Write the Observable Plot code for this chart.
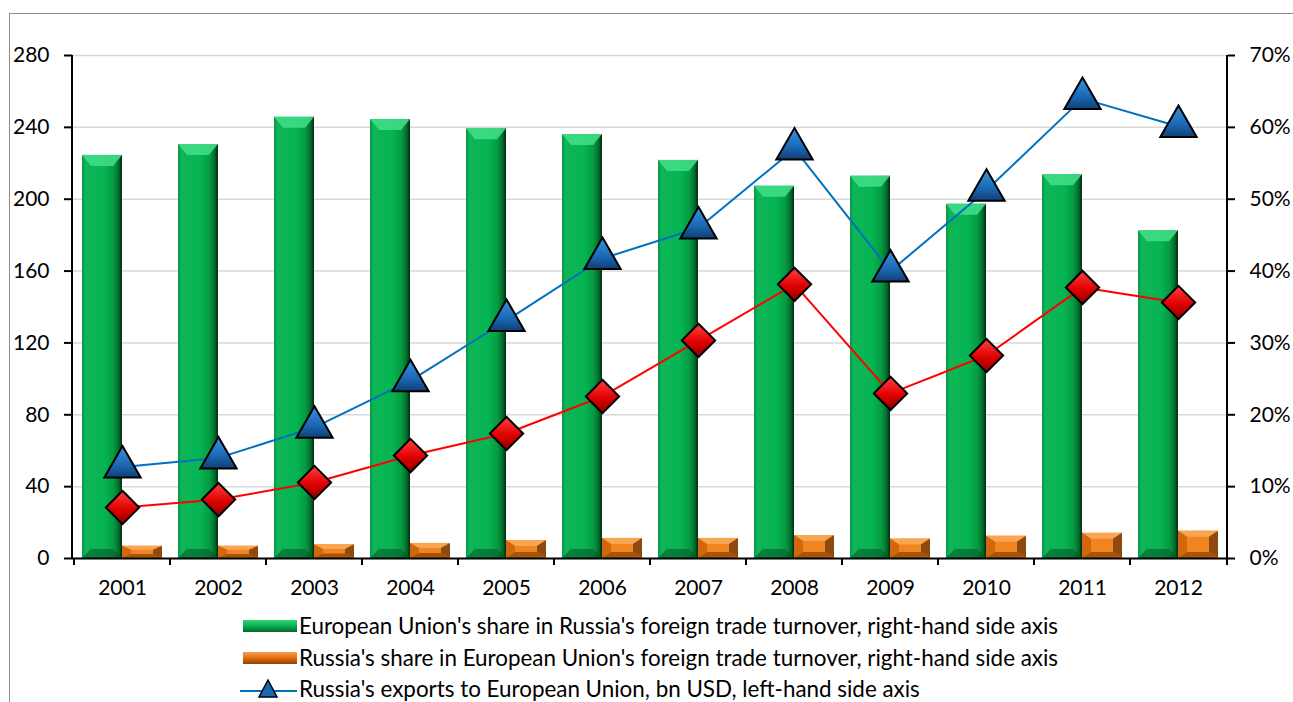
<!DOCTYPE html>
<html><head><meta charset="utf-8">
<script src="https://cdn.jsdelivr.net/npm/d3@7"></script>
<script src="https://cdn.jsdelivr.net/npm/@observablehq/plot@0.6"></script>
<style>
body{margin:0;background:#fff;font-family:Lato,sans-serif;}
#wrap{position:relative;width:1293px;height:702px;overflow:hidden;background:#fff;}
#frame{position:absolute;left:9px;top:13px;width:1400px;height:800px;border:1px solid #8c8c8c;box-sizing:border-box;}
#chart{position:absolute;left:0;top:0;}
.li{position:absolute;left:240px;height:24px;display:flex;align-items:center;font-size:22.4px;line-height:1;color:#000;white-space:nowrap;}
.li svg{margin-right:1px;flex:none;}
</style></head>
<body><div id="wrap"><div id="frame"></div><div id="chart"></div><div id="legend"></div></div>
<script>
const years = ["2001","2002","2003","2004","2005","2006","2007","2008","2009","2010","2011","2012"];
// % (right-hand axis)
const euShareInRussiaTrade = [56.1, 57.6, 61.4, 61.1, 59.8, 59.0, 55.4, 51.8, 53.2, 49.3, 53.4, 45.6];
const russiaShareInEUTrade = [1.7, 1.7, 1.9, 2.1, 2.5, 2.8, 2.8, 3.2, 2.7, 3.1, 3.5, 3.8];
// bn USD (left-hand axis)
const exportsToEU = [51, 56, 73, 99, 132.5, 167, 184, 228, 160, 205, 256, 240.5];
const importsFromEU = [28.4, 32.8, 42.3, 57.3, 69.6, 90.2, 121.4, 152.6, 91.9, 113, 150.9, 142.5];
const leftTicks = [0, 40, 80, 120, 160, 200, 240, 280];
const rightTickLabels = ["0%","10%","20%","30%","40%","50%","60%","70%"];
const seriesLabels = [
  "European Union's share in Russia's foreign trade turnover, right-hand side axis",
  "Russia's share in European Union's foreign trade turnover, right-hand side axis",
  "Russia's exports to European Union, bn USD, left-hand side axis"
];
const pctToLeft = 280 / 70;

const rows = years.map((year, i) => ({
  year,
  eu: euShareInRussiaTrade[i],
  ru: russiaShareInEUTrade[i],
  exp: exportsToEU[i],
  imp: importsFromEU[i]
}));

const chart = Plot.plot({
  width: 1293, height: 605,
  marginLeft: 72, marginRight: 66, marginTop: 55, marginBottom: 47,
  x: {type: "band", domain: years, padding: 0, label: null},
  y: {domain: [0, 280], label: null},
  style: {fontFamily: "Lato, sans-serif", fontSize: "21px", color: "#000", background: "transparent", overflow: "visible"},
  marks: [
    Plot.gridY(leftTicks, {stroke: "#d9d9d9", strokeOpacity: 1, strokeWidth: 1.5}),
    Plot.barY(rows, {x: "year", y: d => d.eu * pctToLeft, fill: "url(#gGreen)", insetLeft: 8, insetRight: 48, className: "greenbar"}),
    Plot.barY(rows, {x: "year", y: d => d.ru * pctToLeft, fill: "#ef8420", insetLeft: 48, insetRight: 8, className: "orangebar"}),
    Plot.line(rows, {x: "year", y: "imp", stroke: "#ff0000", strokeWidth: 2}),
    Plot.dot(rows, {x: "year", y: "imp", symbol: "diamond2", r: 15, fill: "url(#gRed)", stroke: "#000", strokeWidth: 2}),
    Plot.line(rows, {x: "year", y: "exp", stroke: "#0070c0", strokeWidth: 2}),
    Plot.dot(rows, {x: "year", y: "exp", symbol: "triangle", r: 13.5, fill: "url(#gBlue)", stroke: "#000", strokeWidth: 2}),
    Plot.axisY(leftTicks, {anchor: "left", tickSize: 8, tickPadding: 15, strokeWidth: 2, label: null}),
    Plot.axisY(leftTicks, {anchor: "right", tickSize: 7, tickPadding: 15, strokeWidth: 2, label: null,
      tickFormat: d => rightTickLabels[leftTicks.indexOf(d)]}),
    Plot.axisX({tickSize: 0, tickPadding: 22, label: null, fontSize: 21}),
    Plot.ruleY([0], {stroke: "#000", strokeWidth: 2})
  ]
});
document.getElementById("chart").appendChild(chart);

// gradients
const svg = d3.select(chart);
const defs = svg.insert("defs", ":first-child");
function grad(id, stops, horiz) {
  const g = defs.append("linearGradient").attr("id", id)
    .attr("x1", 0).attr("y1", 0).attr("x2", horiz ? 1 : 0).attr("y2", horiz ? 0 : 1);
  stops.forEach(([o, c]) => g.append("stop").attr("offset", o).attr("stop-color", c));
}
grad("gGreen", [[0, "#0a9444"], [0.08, "#0db555"], [0.55, "#06b553"], [0.8, "#04993f"], [0.92, "#026a2b"], [1, "#012812"]], true);
grad("gBlue", [[0, "#3c93e0"], [0.6, "#1a68b4"], [1, "#0f3f73"]], false);
grad("gRed", [[0, "#ff4040"], [0.55, "#e00000"], [1, "#8c0000"]], false);
grad("gGreenL", [[0, "#2fd477"], [0.5, "#08b050"], [1, "#04652c"]], false);
grad("gOrangeL", [[0, "#f7a055"], [0.5, "#e46c0a"], [1, "#8a4208"]], false);

// bevel caps on green bars
svg.selectAll("g.greenbar rect").each(function () {
  const r = d3.select(this);
  const x = +r.attr("x"), y = +r.attr("y"), w = +r.attr("width"), h = +r.attr("height");
  const p = d3.select(this.parentNode);
  p.append("polygon")
    .attr("points", `${x},${y} ${x + w},${y} ${x + w - 9},${y + 11} ${x + 9},${y + 11}`)
    .attr("fill", "#3fdc86").attr("opacity", 0.9);
  p.append("polygon")
    .attr("points", `${x},${y + h} ${x + w},${y + h} ${x + w - 9},${y + h - 9} ${x + 9},${y + h - 9}`)
    .attr("fill", "#05592a").attr("opacity", 0.6);
});
// bevel frame on orange bars
svg.selectAll("g.orangebar rect").each(function () {
  const r = d3.select(this);
  const x = +r.attr("x"), y = +r.attr("y"), w = +r.attr("width"), h = +r.attr("height");
  const b = Math.min(6, h / 3), s = 9;
  const p = d3.select(this.parentNode);
  const poly = (pts, c) => p.append("polygon").attr("points", pts.map(q => q.join(",")).join(" ")).attr("fill", c);
  poly([[x, y], [x + w, y], [x + w - s, y + b], [x + s, y + b]], "#f9a551");
  poly([[x, y], [x + s, y + b], [x + s, y + h - b], [x, y + h]], "#d4660f");
  poly([[x + w, y], [x + w - s, y + b], [x + w - s, y + h - b], [x + w, y + h]], "#8e4a10");
  poly([[x, y + h], [x + s, y + h - b], [x + w - s, y + h - b], [x + w, y + h]], "#a6530c");
});

// axis lines and category boundary ticks, from the plot's own scales
const xs = chart.scale("x"), ys = chart.scale("y");
const [xl, xr] = xs.range;
const [yb, yt] = ys.range;
const ax = svg.append("g").attr("stroke", "#000").attr("stroke-width", 2);
ax.append("line").attr("x1", xl).attr("x2", xl).attr("y1", yt).attr("y2", yb);
ax.append("line").attr("x1", xr).attr("x2", xr).attr("y1", yt).attr("y2", yb);
years.forEach(y => {
  const bx = xs.apply(y);
  ax.append("line").attr("x1", bx).attr("x2", bx).attr("y1", yb).attr("y2", yb + 7);
});
ax.append("line").attr("x1", xr).attr("x2", xr).attr("y1", yb).attr("y2", yb + 7);

// legend
const legend = document.getElementById("legend");
const swatches = [
  `<svg width="58" height="16"><rect x="3" y="2" width="54" height="12" fill="url(#gGreenL)"/></svg>`,
  `<svg width="58" height="16"><rect x="3" y="2" width="54" height="12" fill="url(#gOrangeL)"/></svg>`,
  `<svg width="58" height="22"><line x1="0" x2="57" y1="13" y2="13" stroke="#0070c0" stroke-width="2"/><path d="M28,2 L37,19 L19,19 Z" fill="#1a68b4" stroke="#000" stroke-width="1.5"/></svg>`
];
const legendTops = [614, 646, 677];
seriesLabels.forEach((t, i) => {
  const d = document.createElement("div");
  d.className = "li";
  d.style.top = legendTops[i] + "px";
  d.innerHTML = swatches[i] + `<span>${t}</span>`;
  legend.appendChild(d);
});
legend.querySelectorAll("svg").forEach(s => {
  const dd = document.createElementNS("http://www.w3.org/2000/svg", "defs");
  dd.innerHTML = defs.node().innerHTML;
  s.insertBefore(dd, s.firstChild);
});
</script>
</body></html>
